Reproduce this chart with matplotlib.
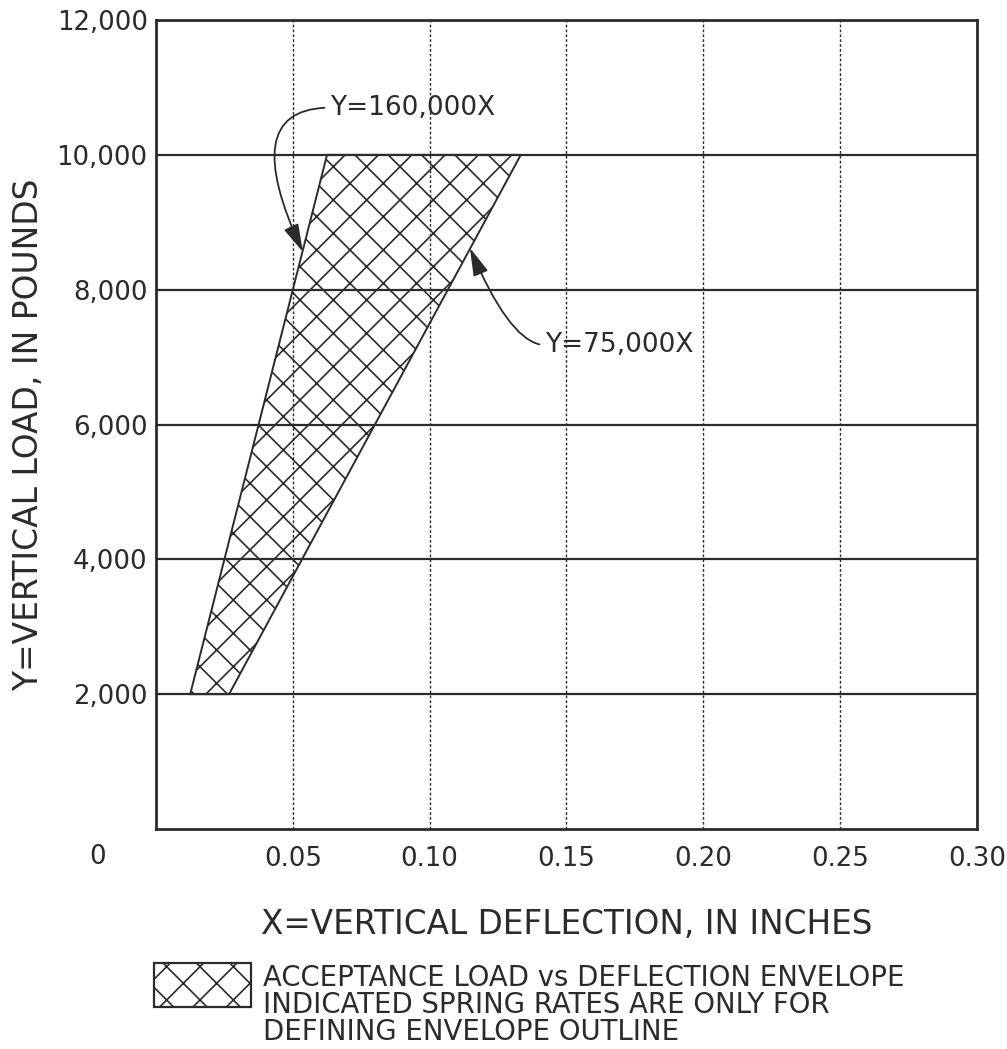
import matplotlib
matplotlib.use('Agg')
import matplotlib.pyplot as plt
from matplotlib.patches import Polygon, Rectangle
from matplotlib.ticker import FuncFormatter

# envelope corners (deflection in inches, load in pounds)
env_defl = [0.0125, 0.0625, 0.1333, 0.0267]
env_load = [2000, 10000, 10000, 2000]

x_ticks = [0.05, 0.10, 0.15, 0.20, 0.25, 0.30]
x_tick_labels = ['0.05', '0.10', '0.15', '0.20', '0.25', '0.30']
y_ticks = [2000, 4000, 6000, 8000, 10000, 12000]

stiff_label = 'Y=160,000X'
soft_label = 'Y=75,000X'
legend_text = ('ACCEPTANCE LOAD vs DEFLECTION ENVELOPE\n'
               'INDICATED SPRING RATES ARE ONLY FOR\n'
               'DEFINING ENVELOPE OUTLINE')

ink = '#2b2b2b'
plt.rcParams['font.family'] = ['DejaVu Sans']
plt.rcParams['hatch.color'] = ink
plt.rcParams['hatch.linewidth'] = 1.2

fig = plt.figure(figsize=(10.07, 10.49), dpi=100)
ax = fig.add_axes([0.1549, 0.2097, 0.8153, 0.7712])

ax.set_xlim(0, 0.30)
ax.set_ylim(0, 12000)

# grid: dotted verticals, solid horizontals
for xv in x_ticks[:-1]:
    ax.axvline(xv, color=ink, lw=1.0, ls=(0, (2, 1.5)), zorder=1)
for yv in y_ticks[:-1]:
    ax.axhline(yv, color=ink, lw=1.6, zorder=1)

env = Polygon(list(zip(env_defl, env_load)), closed=True, facecolor='none',
              edgecolor=ink, hatch='x', lw=1.4, zorder=2)
ax.add_patch(env)

ax.set_xticks(x_ticks)
ax.set_xticklabels(x_tick_labels)
ax.set_yticks(y_ticks)
ax.yaxis.set_major_formatter(FuncFormatter(lambda v, p: '{:,.0f}'.format(v)))
ax.tick_params(length=0, labelsize=18.7, labelcolor=ink)
ax.tick_params(axis='x', pad=12)
ax.tick_params(axis='y', pad=6)
for s in ax.spines.values():
    s.set_color(ink)
    s.set_linewidth(2)

ax.set_xlabel('X=VERTICAL DEFLECTION, IN INCHES', fontsize=23.5, color=ink, labelpad=26)
ax.set_ylabel('Y=VERTICAL LOAD, IN POUNDS', fontsize=23.7, color=ink)
ax.yaxis.set_label_coords(-0.135, 0.487)

fig.text(98 / 1007, 1 - 857 / 1049, '0', ha='center', va='center', fontsize=18.7, color=ink)

# spring rate callouts
arrow_kw = dict(arrowstyle='-|>,head_length=0.9,head_width=0.25', color=ink,
                lw=1.3, shrinkA=2, shrinkB=0)
ax.annotate(stiff_label, xy=(0.0537, 8560), xytext=(0.0636, 10700),
            fontsize=19, color=ink, va='center', ha='left',
            arrowprops=dict(connectionstyle='angle3,angleA=0,angleB=115',
                            relpos=(0, 0.5), **arrow_kw))
ax.annotate(soft_label, xy=(0.1147, 8620), xytext=(0.1421, 7180),
            fontsize=19, color=ink, va='center', ha='left',
            arrowprops=dict(connectionstyle='angle3,angleA=0,angleB=-67',
                            relpos=(0, 0.5), **arrow_kw))

# legend key
key = Rectangle((154 / 1007, 1 - 1007 / 1049), 97 / 1007, 44 / 1049,
                transform=fig.transFigure, facecolor='none', edgecolor=ink,
                hatch='x', lw=1.6)
fig.add_artist(key)
fig.text(263 / 1007, 1 - 964 / 1049, legend_text, ha='left', va='top',
         fontsize=19.8, color=ink, linespacing=0.95)

fig.savefig('out.png', dpi=100, facecolor='white')
